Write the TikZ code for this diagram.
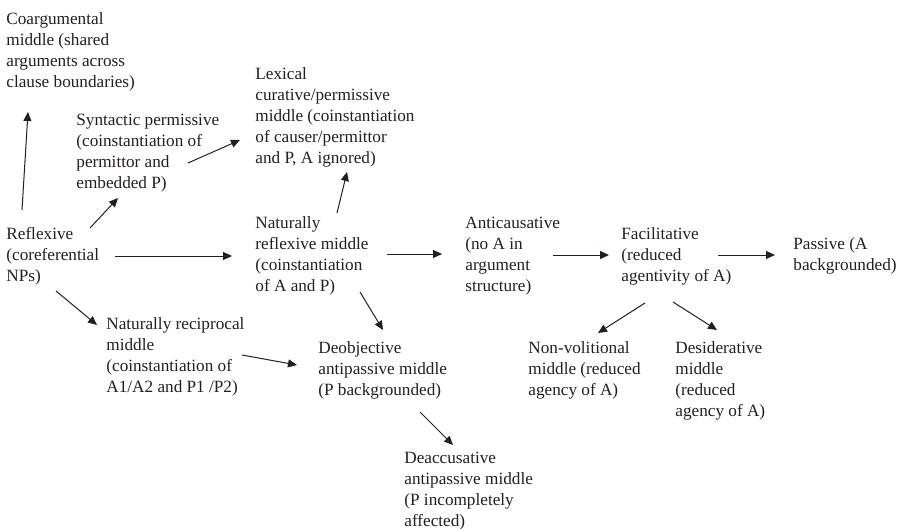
\documentclass[tikz,border=0pt]{standalone}
\usepackage{fontspec}
\setmainfont{Liberation Serif}
\usepackage{tikz}
\usetikzlibrary{arrows.meta}

\definecolor{ink}{HTML}{231F20}

\begin{document}
\begin{tikzpicture}[x=0.5pt,y=-0.5pt,
    lbl/.style={anchor=north west, inner sep=0pt, align=left, text=ink,
        font=\fontsize{8.6pt}{10.5pt}\selectfont},
    arr/.style={draw=ink, line width=0.5pt, -{Triangle[length=4.5pt,width=4pt]}}]
        \useasboundingbox (0,0) rectangle (904,529);
        \node[lbl] (coarg) at (6,12) {Coargumental\\middle (shared\\arguments across\\clause boundaries)};
        \node[lbl] (synt) at (76,114) {Syntactic permissive\\(coinstantiation of\\permittor and\\embedded P)};
        \node[lbl] (refl) at (6,227) {Reflexive\\(coreferential\\NPs)};
        \node[lbl] (lex) at (255,67) {Lexical\\curative/permissive\\middle (coinstantiation\\of causer/permittor\\and P, A ignored)};
        \node[lbl] (nrefl) at (255,216) {Naturally\\reflexive middle\\(coinstantiation\\of A and P)};
        \node[lbl] (anti) at (465,217) {Anticausative\\(no A in\\argument\\structure)};
        \node[lbl] (facil) at (621,227) {Facilitative\\(reduced\\agentivity of A)};
        \node[lbl] (pass) at (793,237) {Passive (A\\backgrounded)};
        \node[lbl] (nonvol) at (528,341) {Non-volitional\\middle (reduced\\agency of A)};
        \node[lbl] (desid) at (675,341) {Desiderative\\middle\\(reduced\\agency of A)};
        \node[lbl] (nrecip) at (106,317) {Naturally reciprocal\\middle\\(coinstantiation of\\A1/A2 and P1 /P2)};
        \node[lbl] (deobj) at (318,341) {Deobjective\\antipassive middle\\(P backgrounded)};
        \node[lbl] (deacc) at (404,452) {Deaccusative\\antipassive middle\\(P incompletely\\affected)};
        % from the reflexive
        \draw[arr] ([shift={(16,-17)}]refl.north west) -- ([shift={(22,100)}]coarg.north west);
        \draw[arr] ([shift={(84,1)}]refl.north west) -- ([shift={(42,84)}]synt.north west);
        \draw[arr] ([shift={(112,49)}]synt.north west) -- ([shift={(-15,73)}]lex.north west);
        \draw[arr] ([shift={(109,29)}]refl.north west) -- ([shift={(-23,40)}]nrefl.north west);
        \draw[arr] ([shift={(50,64)}]refl.north west) -- ([shift={(-9,8)}]nrecip.north west);
        % from the naturally reflexive middle
        \draw[arr] ([shift={(82,-3)}]nrefl.north west) -- ([shift={(92,105)}]lex.north west);
        \draw[arr] ([shift={(132,38)}]nrefl.north west) -- ([shift={(-23,37)}]anti.north west);
        \draw[arr] ([shift={(105,76)}]nrefl.north west) -- ([shift={(65,-11)}]deobj.north west);
        \draw[arr] ([shift={(136,38)}]nrecip.north west) -- ([shift={(-21,24)}]deobj.north west);
        % along the chain
        \draw[arr] ([shift={(88,38)}]anti.north west) -- ([shift={(-12,28)}]facil.north west);
        \draw[arr] ([shift={(97,28)}]facil.north west) -- ([shift={(-18,18)}]pass.north west);
        \draw[arr] ([shift={(24,76)}]facil.north west) -- ([shift={(70,-8)}]nonvol.north west);
        \draw[arr] ([shift={(52,75)}]facil.north west) -- ([shift={(42,-11)}]desid.north west);
        \draw[arr] ([shift={(102,71)}]deobj.north west) -- ([shift={(49,-7)}]deacc.north west);
    \end{tikzpicture}
\end{document}
